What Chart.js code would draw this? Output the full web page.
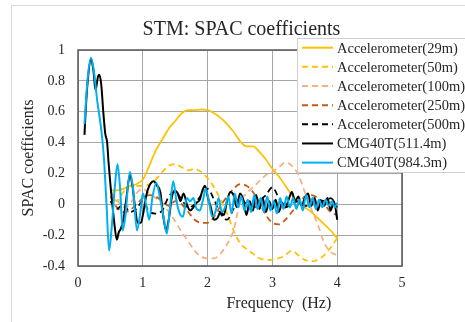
<!DOCTYPE html>
<html>
<head>
<meta charset="utf-8">
<script src="https://cdn.jsdelivr.net/npm/chart.js@4.4.1/dist/chart.umd.min.js"></script>
<style>
  html, body { margin: 0; padding: 0; background: #fff; overflow: hidden; }
  #wrap { position: relative; width: 465px; height: 322px; overflow: hidden; }
  #frame { position: absolute; left: 11px; top: 5px; width: 520px; height: 400px; border: 1px solid #d9d9d9; }
  canvas { position: absolute; left: 0; top: 0; }
</style>
</head>
<body>
<div id="wrap"><div id="frame"></div><canvas id="chart" width="465" height="322"></canvas></div>
<script>
// frequency grid shared by the accelerometer curves (Hz)
const accFreq = [0.5, 0.6, 0.7, 0.8, 0.9, 1.0, 1.1, 1.2, 1.3, 1.4, 1.5, 1.6, 1.7, 1.8, 1.9, 2.0, 2.1, 2.2,
    2.3, 2.4, 2.5, 2.6, 2.7, 2.8, 2.9, 3.0, 3.1, 3.2, 3.3, 3.4, 3.5, 3.6, 3.7, 3.8, 3.9, 4.0];

const acc29 = [0.09, 0.09, 0.10, 0.12, 0.13, 0.16, 0.25, 0.35, 0.42, 0.49, 0.54, 0.59, 0.61, 0.61, 0.615, 0.61, 0.59, 0.56,
    0.52, 0.47, 0.41, 0.375, 0.375, 0.34, 0.29, 0.23, 0.18, 0.12, 0.06, 0.01, -0.02, -0.05, -0.09, -0.13, -0.17, -0.22];
const acc50 = [0.09, 0.02, 0.08, 0.12, 0.12, 0.12, 0.13, 0.16, 0.21, 0.25, 0.26, 0.24, 0.22, 0.23, 0.21, 0.17, 0.11, 0.03,
    -0.06, -0.17, -0.25, -0.29, -0.32, -0.35, -0.36, -0.36, -0.35, -0.33, -0.30, -0.33, -0.36, -0.37, -0.36, -0.33, -0.28, -0.22];
const acc100 = [0.08, 0.03, -0.02, 0.0, 0.07, 0.10, 0.07, 0.04, 0.01, -0.05, -0.11, -0.18, -0.24, -0.30, -0.34, -0.35, -0.35, -0.32,
    -0.26, -0.17, 0.01, 0.07, 0.11, 0.15, 0.19, 0.21, 0.24, 0.27, 0.25, 0.19, 0.08, -0.03, -0.13, -0.25, -0.31, -0.33];
const acc250 = [0.05, -0.02, -0.05, -0.04, 0.0, 0.04, 0.06, 0.05, 0.02, -0.01, 0.02, 0.0, -0.05, -0.10, -0.12, -0.12, -0.08, -0.01,
    0.05, 0.10, 0.13, 0.12, 0.08, 0.01, -0.07, -0.12, -0.13, -0.10, -0.05, 0.0, 0.05, 0.06, 0.04, 0.0, -0.05, -0.07];
const acc500 = [0.02, -0.03, 0.0, -0.05, -0.03, 0.02, -0.05, -0.06, -0.04, 0.05, 0.08, 0.03, -0.02, 0.0, 0.06, 0.10, 0.03, -0.06,
    -0.10, -0.03, 0.04, 0.0, -0.04, 0.02, 0.06, 0.11, 0.04, -0.02, 0.0, 0.02, -0.01, 0.0, 0.03, 0.02, 0.04, -0.02];

// CMG40T curves, sampled at their peaks and troughs
const cmg511Freq = [0.10, 0.12, 0.15, 0.20, 0.24, 0.27, 0.31, 0.33, 0.36, 0.39, 0.42, 0.45, 0.47, 0.50, 0.53, 0.56, 0.60, 0.63,
    0.66, 0.70, 0.75, 0.80, 0.84, 0.88, 0.92, 0.97, 1.01, 1.05, 1.10, 1.17, 1.22, 1.27, 1.31, 1.36, 1.40, 1.45, 1.49, 1.54,
    1.58, 1.63, 1.68, 1.73, 1.78, 1.83, 1.88, 1.92, 1.96, 2.00, 2.05, 2.10, 2.15, 2.20, 2.25, 2.30, 2.35, 2.40, 2.45, 2.50,
    2.55, 2.60, 2.65, 2.70, 2.75, 2.80, 2.85, 2.90, 2.95, 3.00, 3.05, 3.10, 3.15, 3.20, 3.25, 3.30, 3.35, 3.40, 3.45, 3.50,
    3.55, 3.60, 3.65, 3.70, 3.75, 3.80, 3.85, 3.90, 3.95, 4.00];
const cmg511 = [0.45, 0.62, 0.80, 0.94, 0.86, 0.74, 0.83, 0.84, 0.77, 0.60, 0.46, 0.40, 0.28, 0.13, 0.0, -0.12, -0.23, -0.18,
    -0.16, -0.10, 0.05, 0.19, 0.12, -0.02, -0.12, -0.12, -0.05, 0.05, 0.12, 0.15, 0.12, 0.08, -0.06, -0.17, -0.10, 0.05, 0.09, 0.07,
    0.02, 0.07, 0.0, -0.04, -0.02, 0.01, 0.03, 0.09, 0.12, 0.05, -0.02, -0.10, -0.09, -0.05, -0.07, 0.02, 0.08, 0.06, -0.02, 0.07,
    0.03, -0.07, 0.02, -0.04, 0.06, -0.03, 0.04, -0.05, 0.02, -0.03, 0.03, -0.05, 0.01, -0.02, 0.03, 0.08, 0.02, 0.05, -0.01, 0.04,
    0.07, -0.01, 0.04, -0.04, 0.02, -0.01, 0.04, -0.04, 0.02, -0.10];

const cmg984Freq = [0.10, 0.15, 0.20, 0.24, 0.30, 0.36, 0.40, 0.44, 0.48, 0.52, 0.57, 0.61, 0.65, 0.69, 0.73, 0.80, 0.85, 0.91,
    0.96, 1.00, 1.05, 1.10, 1.15, 1.21, 1.27, 1.32, 1.37, 1.42, 1.47, 1.52, 1.57, 1.62, 1.68, 1.73, 1.78, 1.83, 1.88, 1.93,
    1.97, 2.02, 2.07, 2.12, 2.17, 2.22, 2.27, 2.32, 2.37, 2.42, 2.47, 2.52, 2.57, 2.62, 2.67, 2.72, 2.77, 2.82, 2.87, 2.92,
    2.97, 3.02, 3.07, 3.12, 3.17, 3.22, 3.27, 3.32, 3.37, 3.42, 3.47, 3.52, 3.57, 3.62, 3.67, 3.72, 3.77, 3.82, 3.87, 3.92,
    3.96, 4.00];
const cmg984 = [0.52, 0.82, 0.95, 0.88, 0.66, 0.48, 0.30, 0.0, -0.30, -0.15, 0.12, 0.26, 0.10, -0.17, -0.08, 0.21, 0.10, -0.17,
    -0.06, 0.07, 0.0, -0.10, 0.05, 0.14, 0.03, -0.08, -0.19, -0.02, 0.15, 0.02, -0.06, -0.08, 0.04, 0.02, 0.04, -0.03, -0.04, 0.03,
    0.10, 0.02, -0.08, -0.05, 0.04, -0.05, -0.02, 0.05, -0.06, 0.07, -0.02, 0.05, -0.04, 0.03, -0.05, 0.06, -0.03, 0.04, -0.05, 0.05,
    -0.04, 0.02, -0.06, 0.04, -0.03, 0.05, -0.02, 0.04, -0.03, 0.03, -0.04, 0.06, -0.02, 0.04, -0.03, 0.03, -0.02, 0.03, -0.01, 0.02,
    -0.02, 0.01];

const yTicks = [-0.4, -0.2, 0, 0.2, 0.4, 0.6, 0.8, 1];
const xTicks = [0, 1, 2, 3, 4, 5];

const serif = "'Liberation Serif', 'Times New Roman', serif";
const textColor = '#262626';

function pairs(xs, ys) {
    return xs.map((x, i) => ({ x: x, y: ys[i] }));
}

const seriesDefs = [
    { label: 'Accelerometer(29m)', xs: accFreq, ys: acc29, color: '#FFC000', dash: [] },
    { label: 'Accelerometer(50m)', xs: accFreq, ys: acc50, color: '#FFC000', dash: [6, 4] },
    { label: 'Accelerometer(100m)', xs: accFreq, ys: acc100, color: '#F4B183', dash: [6, 4] },
    { label: 'Accelerometer(250m)', xs: accFreq, ys: acc250, color: '#C55A11', dash: [6, 4] },
    { label: 'Accelerometer(500m)', xs: accFreq, ys: acc500, color: '#000000', dash: [6, 4] },
    { label: 'CMG40T(511.4m)', xs: cmg511Freq, ys: cmg511, color: '#000000', dash: [] },
    { label: 'CMG40T(984.3m)', xs: cmg984Freq, ys: cmg984, color: '#00B0F0', dash: [] },
];

const decor = {
    id: 'decor',
    beforeDatasetsDraw(chart) {
        const { ctx, chartArea: a } = chart;
        ctx.save();
        ctx.strokeStyle = '#595959';
        ctx.lineWidth = 1.5;
        ctx.strokeRect(a.left, a.top, a.right - a.left, a.bottom - a.top);
        ctx.restore();
    },
    afterDraw(chart) {
        const { ctx } = chart;
        ctx.save();
        ctx.fillStyle = textColor;
        ctx.textAlign = 'center';
        ctx.textBaseline = 'alphabetic';
        ctx.font = '20px ' + serif;
        ctx.fillText('STM: SPAC coefficients', 241.5, 35);
        ctx.font = '16px ' + serif;
        ctx.fillText('Frequency  (Hz)', chart.scales.x.getPixelForValue(3.1), 308);

        // legend box, overlapping the plot like in the original
        ctx.fillStyle = '#ffffff';
        ctx.fillRect(297, 38, 180, 135);
        ctx.strokeStyle = '#d0d0d0';
        ctx.lineWidth = 1;
        ctx.strokeRect(297.5, 38.5, 180, 134);
        ctx.font = '14.5px ' + serif;
        ctx.textAlign = 'left';
        ctx.textBaseline = 'middle';
        seriesDefs.forEach((s, i) => {
            const y = 47.7 + i * 19.15;
            ctx.strokeStyle = s.color;
            ctx.lineWidth = 2;
            ctx.setLineDash(s.dash);
            ctx.beginPath();
            ctx.moveTo(302, y);
            ctx.lineTo(333, y);
            ctx.stroke();
            ctx.setLineDash([]);
            ctx.fillStyle = textColor;
            ctx.fillText(s.label, 337, y + 1);
        });
        ctx.restore();
    },
};

new Chart(document.getElementById('chart'), {
    type: 'scatter',
    data: {
        datasets: seriesDefs.map((s, i) => ({
            label: s.label,
            data: pairs(s.xs, s.ys),
            showLine: true,
            borderColor: s.color,
            backgroundColor: s.color,
            borderDash: s.dash,
            borderWidth: i >= 5 ? 2 : 1.75,
            pointRadius: 0,
            cubicInterpolationMode: 'monotone',
            order: seriesDefs.length - i,
        })),
    },
    options: {
        responsive: false,
        devicePixelRatio: 1,
        animation: false,
        layout: { padding: { top: 50, right: 63, left: 0, bottom: 0 } },
        plugins: {
            legend: { display: false },
            tooltip: { enabled: false },
            title: { display: false },
        },
        scales: {
            x: {
                type: 'linear',
                min: 0,
                max: 5,
                afterFit(scale) { scale.height = 56; },
                afterBuildTicks(scale) { scale.ticks = xTicks.map((v) => ({ value: v })); },
                grid: { color: '#a6a6a6', lineWidth: 1, drawTicks: false },
                border: { display: false },
                ticks: { padding: 9, color: textColor, font: { family: serif, size: 14 } },
            },
            y: {
                type: 'linear',
                min: -0.4,
                max: 1,
                afterFit(scale) { scale.width = 78; },
                afterBuildTicks(scale) { scale.ticks = yTicks.map((v) => ({ value: v })); },
                grid: { color: '#a6a6a6', lineWidth: 1, drawTicks: false },
                border: { display: false },
                ticks: {
                    padding: 13,
                    color: textColor,
                    font: { family: serif, size: 14 },
                    callback: (v) => String(+v.toFixed(1)),
                },
                title: {
                    display: true,
                    text: 'SPAC coefficients',
                    color: textColor,
                    font: { family: serif, size: 16 },
                    padding: { top: 19, bottom: 0 },
                },
            },
        },
    },
    plugins: [decor],
});
</script>
</body>
</html>
